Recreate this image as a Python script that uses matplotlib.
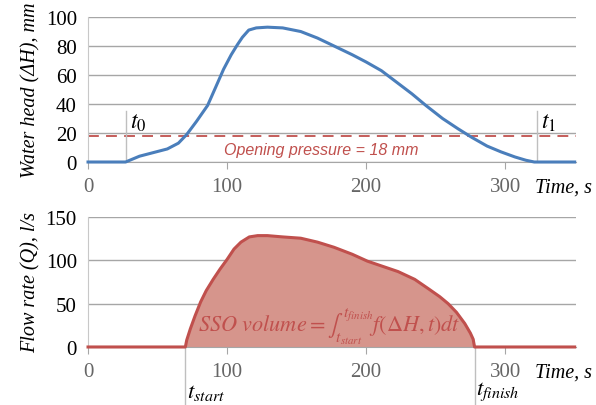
import matplotlib.pyplot as plt

# water head readings (s, mm)
t_head = [0, 27, 32, 37, 45, 57, 65, 71, 78, 86, 92, 97.5, 103, 107.5, 111, 115.6, 121,
          129, 140, 153, 165, 177, 190, 200, 211, 222, 233, 243, 255, 266, 276, 287,
          297, 307, 315, 321, 350]
head = [0, 0, 2, 4, 6, 9, 13, 19, 28, 39, 52, 64, 74, 81, 86, 91, 92.5,
        93, 92.5, 90, 85.5, 80, 74, 69, 63, 55, 47, 39, 30, 23, 17, 11,
        7, 3.5, 1.2, 0, 0]

# flow rate readings (s, l/s)
t_flow = [0, 70, 71, 73.6, 77, 81, 85, 90, 95, 100, 105, 110, 116, 122, 129, 140, 153,
          165, 177, 190, 201, 212, 223, 235, 245, 253, 259, 265, 271, 275, 277, 278, 350]
flow = [0, 0, 8, 21, 36, 52, 65, 78, 90, 101, 113, 121, 127, 128.5, 128.5, 127, 125.5,
        121, 115, 107, 99, 93, 87, 78, 67, 58, 50, 40, 27, 16, 9, 0, 0]

opening = 18
t0, t1 = 27, 323
t_start, t_finish = 70, 278

blue = '#4A7EBB'
red = '#C0504D'
fill_red = '#D6958C'
grid_c = '#A6A6A6'

plt.rcParams['mathtext.fontset'] = 'stix'
serif = 'Liberation Serif'

fig = plt.figure(figsize=(5.96, 4.06), dpi=100)
ax1 = fig.add_axes([0.1477, 0.5985, 0.8188, 0.3571])
ax2 = fig.add_axes([0.1477, 0.1429, 0.8188, 0.3202])

for ax, ymax, step in [(ax1, 100, 20), (ax2, 150, 50)]:
    ax.set_xlim(0, 351)
    ax.set_ylim(0, ymax)
    ax.set_yticks(range(0, ymax + 1, step))
    ax.set_xticks([0, 100, 200, 300])
    ax.grid(axis='y', color=grid_c, lw=1)
    ax.set_axisbelow(True)
    for s in ['top', 'right']:
        ax.spines[s].set_visible(False)
    ax.spines['left'].set_color('#C8C8C8')
    ax.spines['bottom'].set_color(grid_c)
    ax.tick_params(axis='y', length=0, pad=8, labelsize=15, labelcolor='black')
    ax.tick_params(axis='x', length=5, color=grid_c, pad=6, labelsize=15, labelcolor='#666666')
    for lab in ax.get_xticklabels() + ax.get_yticklabels():
        lab.set_family(serif)
    ax.patch.set_alpha(0)

# top panel
ax1.plot(t_head, head, color=blue, lw=2.2, clip_on=False, zorder=3)
ax1.axhline(opening, color=red, lw=1.3, ls=(0, (6, 4)), zorder=2)
ax1.plot([t0, t0], [0, 35], color='#BFBFBF', lw=1)
ax1.plot([t1, t1], [0, 35], color='#BFBFBF', lw=1)
ax1.text(t0 + 3, 24, r'$t_0$', fontsize=17, color='black')
ax1.text(t1 + 3, 24, r'$t_1$', fontsize=17, color='black')
ax1.text(98, 8.5, 'Opening pressure = %d mm' % opening, color=red, fontsize=11.5,
         style='italic', family='Liberation Sans', va='center')
ax1.set_ylabel('Water head (ΔH), mm', family=serif, style='italic', fontsize=14.5, labelpad=4)
ax1.text(0.916, -0.17, 'Time, s', transform=ax1.transAxes, ha='left', va='center',
         family=serif, style='italic', fontsize=14.5)

# bottom panel
ax2.fill_between(t_flow, flow, color=fill_red, zorder=2)
ax2.plot(t_flow, flow, color=red, lw=2.2, clip_on=False, zorder=3)
for tv, lab in [(t_start, r'$t_{start}$'), (t_finish, r'$t_{finish}$')]:
    ax2.plot([tv, tv], [0, -66], color='#BFBFBF', lw=1, clip_on=False)
    ax2.text(tv + 1, -37, lab, fontsize=16.5, va='top', color='black')
ax2.text(79, 24, r'$SSO\ volume = \int_{t_{start}}^{t_{finish}} f(\Delta H,t)dt$',
         color=red, fontsize=16, va='center', zorder=4)
ax2.set_ylabel('Flow rate (Q), l/s', family=serif, style='italic', fontsize=14.5, labelpad=4)
ax2.text(0.916, -0.19, 'Time, s', transform=ax2.transAxes, ha='left', va='center',
         family=serif, style='italic', fontsize=14.5)

fig.savefig('out.png', dpi=100)
